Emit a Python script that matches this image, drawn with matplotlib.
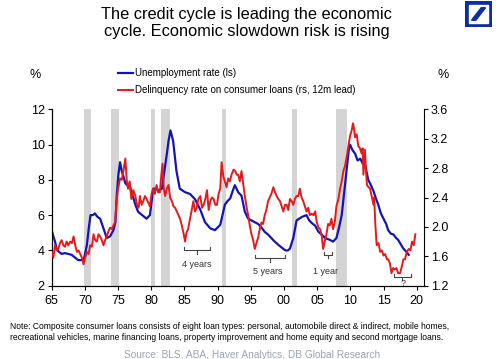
import matplotlib
matplotlib.use("Agg")
import matplotlib.pyplot as plt
from matplotlib.patches import Rectangle, Polygon

plt.rcParams["font.family"] = ["Liberation Sans", "DejaVu Sans"]

# Unemployment rate, % (left scale)
unemp_year = [1965.0, 1965.25, 1965.5, 1965.75, 1966.0, 1966.5, 1967.0, 1967.5, 1968.0, 1968.5,
              1969.0, 1969.5, 1969.85, 1970.3, 1970.6, 1970.85, 1971.2, 1971.5, 1971.9, 1972.3,
              1972.8, 1973.3, 1973.8, 1974.3, 1974.6, 1974.8, 1975.05, 1975.3, 1975.55, 1975.8,
              1976.1, 1976.4, 1976.8, 1977.2, 1977.6, 1978.0, 1978.3, 1978.8, 1979.3, 1979.8,
              1980.1, 1980.3, 1980.7, 1981.1, 1981.6, 1982.1, 1982.4, 1982.6, 1982.9, 1983.1,
              1983.3, 1983.8, 1984.3, 1984.7, 1985.1, 1985.85, 1986.6, 1987.0, 1987.4, 1988.1,
              1988.9, 1989.6, 1990.0, 1990.4, 1990.8, 1991.1, 1991.5, 1991.9, 1992.3, 1992.6,
              1993.1, 1993.6, 1994.1, 1994.6, 1995.1, 1995.6, 1996.1, 1996.6, 1997.1, 1997.6,
              1998.1, 1998.6, 1999.2, 1999.7, 2000.2, 2000.6, 2000.9, 2001.4, 2001.9, 2002.3,
              2002.7, 2003.4, 2003.8, 2004.2, 2004.7, 2005.2, 2005.7, 2006.2, 2006.9, 2007.4,
              2007.9, 2008.3, 2008.7, 2009.1, 2009.5, 2009.8, 2009.96, 2010.3, 2010.7, 2011.1,
              2011.5, 2011.9, 2012.2, 2012.7, 2013.1, 2013.5, 2013.9, 2014.2, 2014.6, 2015.0,
              2015.4, 2015.7, 2016.1, 2016.5, 2016.9, 2017.2, 2017.6, 2018.0, 2018.5, 2018.8]
unemp = [5.15, 4.8, 4.5, 4.1, 3.95, 3.8, 3.85, 3.8, 3.75, 3.6,
         3.45, 3.45, 3.5, 4.3, 5.3, 6.0, 6.0, 6.1, 5.9, 5.8,
         5.25, 4.7, 4.8, 5.15, 5.6, 7.1, 8.3, 9.0, 8.5, 8.2,
         7.8, 7.7, 7.6, 7.1, 6.6, 6.2, 6.1, 5.95, 5.8, 6.0,
         6.9, 7.5, 7.5, 7.4, 7.5, 8.8, 9.6, 10.2, 10.8, 10.5,
         10.2, 8.5, 7.5, 7.4, 7.3, 7.2, 6.9, 6.6, 6.3, 5.6,
         5.25, 5.15, 5.3, 5.45, 6.1, 6.6, 6.8, 6.95, 7.4, 7.7,
         7.3, 7.1, 6.2, 5.8, 5.7, 5.6, 5.5, 5.3, 5.05, 4.9,
         4.7, 4.5, 4.3, 4.15, 4.0, 4.0, 4.1, 4.7, 5.7, 5.8,
         5.9, 6.0, 5.7, 5.55, 5.4, 5.05, 4.9, 4.7, 4.6, 4.5,
         4.7, 5.3, 6.0, 7.4, 8.8, 9.8, 10.0, 9.7, 9.5, 9.1,
         9.2, 8.9, 8.9, 8.0, 7.7, 7.35, 6.9, 6.6, 6.1, 5.8,
         5.5, 5.15, 4.95, 4.9, 4.7, 4.6, 4.35, 4.1, 3.9, 3.75]

# Delinquency rate on consumer loans, % (right scale, 12m lead)
delinq_year = [1965.0, 1965.25, 1965.5, 1965.75, 1966.0, 1966.25, 1966.5, 1966.75, 1967.0, 1967.25,
               1967.5, 1967.8, 1968.05, 1968.3, 1968.55, 1968.8, 1969.05, 1969.3, 1969.55, 1969.8,
               1970.05, 1970.3, 1970.55, 1970.8, 1971.05, 1971.3, 1971.55, 1971.8, 1972.05, 1972.3,
               1972.55, 1972.8, 1973.05, 1973.3, 1973.55, 1973.8, 1974.05, 1974.3, 1974.55, 1974.8,
               1975.05, 1975.3, 1975.55, 1975.8, 1976.1, 1976.3, 1976.5, 1976.75, 1977.0, 1977.3,
               1977.6, 1977.85, 1978.1, 1978.3, 1978.55, 1978.8, 1979.05, 1979.3, 1979.55, 1979.8,
               1980.05, 1980.3, 1980.55, 1980.8, 1981.05, 1981.3, 1981.5, 1981.7, 1981.9, 1982.1,
               1982.35, 1982.6, 1982.85, 1983.1, 1983.35, 1983.6, 1983.85, 1984.1, 1984.35, 1984.6,
               1984.85, 1985.1, 1985.3, 1985.55, 1985.85, 1986.1, 1986.35, 1986.6, 1986.85, 1987.1,
               1987.4, 1987.65, 1987.9, 1988.15, 1988.4, 1988.65, 1988.9, 1989.15, 1989.4, 1989.65,
               1989.9, 1990.15, 1990.4, 1990.6, 1990.85, 1991.1, 1991.35, 1991.6, 1991.85, 1992.1,
               1992.4, 1992.65, 1992.9, 1993.1, 1993.35, 1993.6, 1993.85, 1994.1, 1994.35, 1994.6,
               1994.85, 1995.1, 1995.35, 1995.6, 1995.85, 1996.1, 1996.35, 1996.6, 1996.85, 1997.1,
               1997.35, 1997.6, 1997.85, 1998.1, 1998.4, 1998.65, 1998.9, 1999.15, 1999.4, 1999.65,
               1999.9, 2000.15, 2000.4, 2000.65, 2000.9, 2001.15, 2001.4, 2001.65, 2001.9, 2002.15,
               2002.4, 2002.65, 2002.9, 2003.15, 2003.4, 2003.65, 2003.9, 2004.15, 2004.45, 2004.7,
               2004.95, 2005.2, 2005.45, 2005.7, 2005.9, 2006.15, 2006.4, 2006.65, 2006.9, 2007.15,
               2007.4, 2007.65, 2007.9, 2008.2, 2008.45, 2008.7, 2008.95, 2009.2, 2009.5, 2009.75,
               2009.96, 2010.2, 2010.4, 2010.55, 2010.7, 2010.95, 2011.2, 2011.45, 2011.7, 2011.85,
               2011.97, 2012.2, 2012.35, 2012.5, 2012.75, 2012.97, 2013.25, 2013.5, 2013.6, 2013.75,
               2013.97, 2014.25, 2014.5, 2014.75, 2015.0, 2015.25, 2015.5, 2015.7, 2015.95, 2016.2,
               2016.45, 2016.7, 2016.95, 2017.2, 2017.5, 2017.75, 2018.0, 2018.25, 2018.5, 2018.8,
               2019.05, 2019.3, 2019.55, 2019.8]
delinq = [1.66, 1.58, 1.75, 1.68, 1.70, 1.78, 1.82, 1.75, 1.73, 1.80,
          1.75, 1.80, 1.78, 1.87, 1.75, 1.66, 1.68, 1.63, 1.58, 1.49,
          1.58, 1.66, 1.63, 1.75, 1.73, 1.90, 1.82, 1.80, 1.90, 1.87,
          1.82, 1.75, 1.82, 1.87, 1.94, 1.99, 1.97, 2.02, 2.06, 2.38,
          2.54, 2.66, 2.64, 2.76, 2.93, 2.64, 2.52, 2.62, 2.38, 2.50,
          2.42, 2.30, 2.26, 2.42, 2.30, 2.35, 2.42, 2.38, 2.33, 2.28,
          2.45, 2.52, 2.45, 2.57, 2.47, 2.47, 2.69, 2.86, 2.52, 2.42,
          2.52, 2.57, 2.40, 2.35, 2.28, 2.26, 2.21, 2.16, 2.11, 2.02,
          1.92, 1.80, 1.92, 1.97, 2.11, 2.23, 2.35, 2.21, 2.26, 2.38,
          2.42, 2.26, 2.30, 2.38, 2.50, 2.23, 2.35, 2.40, 2.38, 2.30,
          2.30, 2.45, 2.52, 2.88, 2.69, 2.62, 2.54, 2.66, 2.62, 2.71,
          2.78, 2.76, 2.71, 2.71, 2.62, 2.76, 2.59, 2.42, 2.28, 2.16,
          2.02, 1.90, 1.82, 1.70, 1.78, 1.85, 1.97, 2.06, 2.04, 2.16,
          2.23, 2.35, 2.40, 2.45, 2.54, 2.47, 2.42, 2.38, 2.35, 2.28,
          2.21, 2.30, 2.30, 2.23, 2.38, 2.35, 2.30, 2.38, 2.42, 2.42,
          2.52, 2.40, 2.35, 2.28, 2.21, 2.26, 2.16, 2.18, 2.16, 2.21,
          2.06, 1.99, 1.97, 1.87, 1.70, 1.80, 1.90, 2.04, 2.02, 2.11,
          1.97, 2.06, 2.28, 2.38, 2.52, 2.62, 2.76, 2.83, 2.98, 3.12,
          3.24, 3.31, 3.41, 3.34, 3.22, 3.26, 3.10, 3.07, 3.00, 3.07,
          2.71, 3.05, 2.78, 2.57, 2.54, 2.52, 2.40, 2.30, 2.40, 2.06,
          1.75, 1.78, 1.66, 1.68, 1.61, 1.63, 1.56, 1.56, 1.51, 1.37,
          1.44, 1.42, 1.44, 1.37, 1.37, 1.46, 1.56, 1.56, 1.66, 1.70,
          1.68, 1.80, 1.75, 1.90]

# US recessions (start, end)
recessions = [(1969.9, 1970.9), (1973.9, 1975.2), (1980.0, 1980.5), (1981.5, 1982.9),
              (1990.6, 1991.2), (2001.2, 2001.9), (2007.9, 2009.5)]

# lead brackets: (start, end, label)
brackets = [(1985.0, 1988.9, "4 years"), (1995.6, 2000.2, "5 years"),
            (2006.1, 2007.2, "1 year"), (2016.6, 2019.1, "?")]
bracket_y = [4.0, 3.55, 3.75, 2.5]
label_y = [3.2, 2.8, 2.8, 2.12]
label_x = [1986.9, 1997.6, 2006.3, 2017.9]

years = list(range(1965, 2021, 5))
year_labels = ["%02d" % (y % 100) for y in years]

blue = "#1414b4"
red = "#e41a1c"

fig = plt.figure(figsize=(5, 3.59), dpi=100)
ax = fig.add_axes([0.1034, 0.2042, 0.8480 - 0.1034, 0.6955 - 0.2042])
ax2 = ax.twinx()

for s, e in recessions:
    ax.axvspan(s, e, color="#d4d4d4", lw=0, zorder=0)

l1, = ax.plot(unemp_year, unemp, color=blue, lw=1.6, zorder=3)
l2, = ax2.plot(delinq_year, delinq, color=red, lw=1.4, zorder=3)

# brackets drawn in left-axis units
for (s, e, lab), by, ly, lx in zip(brackets, bracket_y, label_y, label_x):
    m = (s + e) / 2
    ax.plot([s, s, e, e], [by + 0.18, by, by, by + 0.18], color="#444444", lw=0.8, zorder=4)
    ax.plot([m, m], [by, by - 0.2], color="#444444", lw=0.8, zorder=4)
    ax.text(lx, ly, lab, ha="center", va="center", fontsize=6.5, color="#333333", zorder=4)

ax.set_xlim(1965, 2021.1)
ax.set_ylim(2, 12)
ax2.set_ylim(1.2, 3.6)
ax.set_xticks(years)
ax.set_xticklabels(year_labels)
ax.set_yticks([2, 4, 6, 8, 10, 12])
ax2.set_yticks([1.2, 1.6, 2.0, 2.4, 2.8, 3.2, 3.6])
ax2.set_yticklabels(["%.1f" % v for v in [1.2, 1.6, 2.0, 2.4, 2.8, 3.2, 3.6]])

for a in (ax, ax2):
    a.spines["top"].set_visible(False)
    for sp in a.spines.values():
        sp.set_linewidth(0.8)
    a.tick_params(labelsize=9, length=3, width=0.8, pad=2)
ax.spines["right"].set_visible(False)
ax.tick_params(axis="x", pad=4)

fig.text(0.493, 0.936, "The credit cycle is leading the economic\ncycle. Economic slowdown risk is rising",
         ha="center", va="center", fontsize=11.8, linespacing=1.1)
fig.text(35 / 500, 1 - 75 / 359, "%", ha="center", va="center", fontsize=9)
fig.text(443 / 500, 1 - 75 / 359, "%", ha="center", va="center", fontsize=9)

fig.legend([l1, l2], ["Unemployment rate (ls)", "Delinquency rate on consumer loans (rs, 12m lead)"],
           loc="upper left", bbox_to_anchor=(118 / 500, 1 - 68 / 359), frameon=False,
           fontsize=7, handlelength=1.5, handletextpad=0.25, labelspacing=0.75,
           borderpad=0, borderaxespad=0)

fig.text(0.02, 1 - 322 / 359,
         "Note: Composite consumer loans consists of eight loan types: personal, automobile direct & indirect, mobile homes,\n"
         "recreational vehicles, marine financing loans, property improvement and home equity and second mortgage loans.",
         ha="left", va="top", fontsize=6.15, linespacing=1.35)
fig.text(0.504, 1 - 355 / 359, "Source: BLS, ABA, Haver Analytics, DB Global Research",
         ha="center", va="center", fontsize=7.3, color="#9aa4b8")

# Deutsche Bank logo
lg = fig.add_axes([465 / 500, 1 - 27 / 359, 27 / 500, 26 / 359])
lg.set_xlim(0, 1)
lg.set_ylim(0, 1)
lg.axis("off")
lg.add_patch(Rectangle((0, 0), 1, 1, color="#0b2ea0"))
lg.add_patch(Rectangle((0.14, 0.14), 0.72, 0.72, color="white"))
lg.add_patch(Polygon([[0.24, 0.26], [0.40, 0.26], [0.76, 0.74], [0.60, 0.74]], color="#0b2ea0"))

fig.savefig("out.png", dpi=100)
